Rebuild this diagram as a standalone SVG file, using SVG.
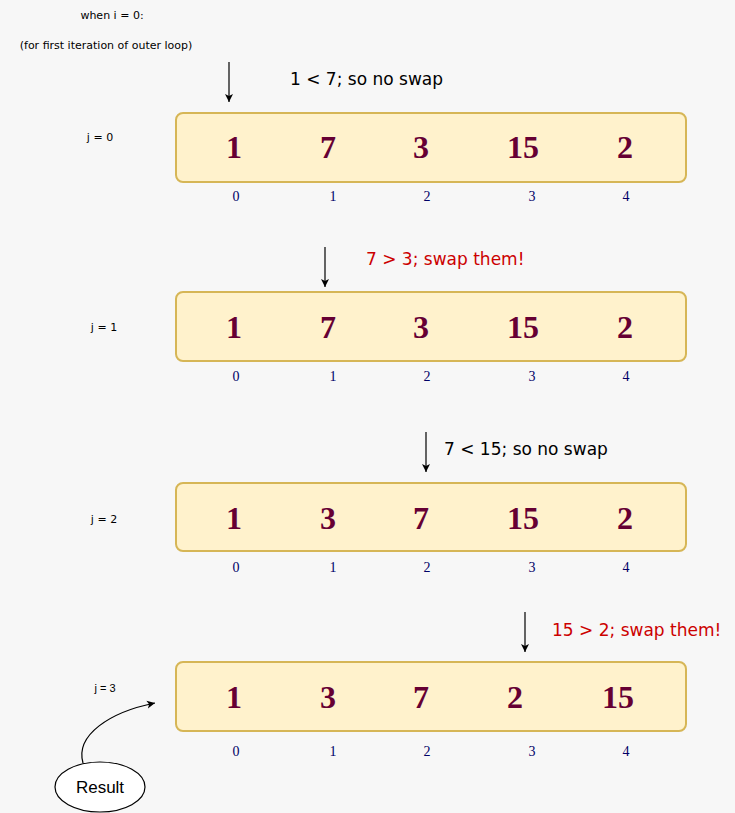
<svg xmlns="http://www.w3.org/2000/svg" width="735" height="813" viewBox="0 0 735 813">
<defs>
<marker id="ah" markerWidth="10" markerHeight="10" refX="9" refY="5" orient="auto" markerUnits="userSpaceOnUse">
<path d="M1,1 L9,5 L1,9 L3,5 Z" fill="#000"/>
</marker>
<style>
.box{fill:#fff2cc;stroke:#d6b656;stroke-width:2}
.num{font-family:"Liberation Serif",serif;font-weight:bold;font-size:32px;fill:#660033;text-anchor:middle}
.idx{font-family:"Liberation Serif",serif;font-size:14px;fill:#000066;text-anchor:middle}
.lbl{font-family:"DejaVu Sans",sans-serif;font-size:11px;fill:#000}
.cmt{font-family:"DejaVu Sans",sans-serif;font-size:17px;fill:#000}
.red{fill:#cc0000}
.arr{stroke:#000;stroke-width:1.2;fill:none;marker-end:url(#ah)}
</style>
</defs>
<rect width="735" height="813" fill="#f7f7f7"/>
<g id="header">
<text class="lbl" x="112" y="19" text-anchor="middle">when i = 0:</text>
<text class="lbl" x="106" y="49" text-anchor="middle">(for first iteration of outer loop)</text>
</g>
<g id="row0">
<text class="lbl" x="100" y="141" text-anchor="middle">j = 0</text>
<rect class="box" x="176" y="113" width="510" height="69" rx="7"/>
<text class="num" x="234" y="158">1</text><text class="num" x="328" y="158">7</text><text class="num" x="421" y="158">3</text><text class="num" x="523" y="158">15</text><text class="num" x="625" y="158">2</text>
<text class="idx" x="236" y="201">0</text><text class="idx" x="333" y="201">1</text><text class="idx" x="427" y="201">2</text><text class="idx" x="532" y="201">3</text><text class="idx" x="626" y="201">4</text>
<text class="cmt" x="290" y="85">1 &lt; 7; so no swap</text>
</g>
<g id="row1">
<text class="lbl" x="104" y="331" text-anchor="middle">j = 1</text>
<rect class="box" x="176" y="292" width="510" height="69" rx="7"/>
<text class="num" x="234" y="338">1</text><text class="num" x="328" y="338">7</text><text class="num" x="421" y="338">3</text><text class="num" x="523" y="338">15</text><text class="num" x="625" y="338">2</text>
<text class="idx" x="236" y="381">0</text><text class="idx" x="333" y="381">1</text><text class="idx" x="427" y="381">2</text><text class="idx" x="532" y="381">3</text><text class="idx" x="626" y="381">4</text>
<text class="cmt red" x="366" y="265">7 &gt; 3; swap them!</text>
</g>
<g id="row2">
<text class="lbl" x="104" y="523" text-anchor="middle">j = 2</text>
<rect class="box" x="176" y="483" width="510" height="68" rx="7"/>
<text class="num" x="234" y="529">1</text><text class="num" x="328" y="529">3</text><text class="num" x="421" y="529">7</text><text class="num" x="523" y="529">15</text><text class="num" x="625" y="529">2</text>
<text class="idx" x="236" y="572">0</text><text class="idx" x="333" y="572">1</text><text class="idx" x="427" y="572">2</text><text class="idx" x="532" y="572">3</text><text class="idx" x="626" y="572">4</text>
<text class="cmt" x="444" y="455">7 &lt; 15; so no swap</text>
</g>
<g id="row3">
<text x="105" y="692" text-anchor="middle" font-family="Liberation Sans,sans-serif" font-size="11">j = 3</text>
<rect class="box" x="176" y="662" width="510" height="69" rx="7"/>
<text class="num" x="234" y="708">1</text><text class="num" x="328" y="708">3</text><text class="num" x="421" y="708">7</text><text class="num" x="515" y="708">2</text><text class="num" x="618" y="708">15</text>
<text class="idx" x="236" y="756">0</text><text class="idx" x="333" y="756">1</text><text class="idx" x="427" y="756">2</text><text class="idx" x="532" y="756">3</text><text class="idx" x="626" y="756">4</text>
<text class="cmt red" x="552" y="636">15 &gt; 2; swap them!</text>
</g>
<g id="result">
<ellipse cx="100" cy="787" rx="45" ry="25" fill="#fff" stroke="#000" stroke-width="1.2"/>
<text x="100" y="793" text-anchor="middle" font-family="Liberation Sans,sans-serif" font-size="17">Result</text>
</g>
<g id="connectors">
<line class="arr" x1="229" y1="62" x2="229" y2="102"/>
<line class="arr" x1="325" y1="247" x2="325" y2="287"/>
<line class="arr" x1="426" y1="432" x2="426" y2="472"/>
<line class="arr" x1="525" y1="612" x2="525" y2="652"/>
<path class="arr" d="M83,763 C75,735 110,712 155,703"/>
</g>
</svg>
